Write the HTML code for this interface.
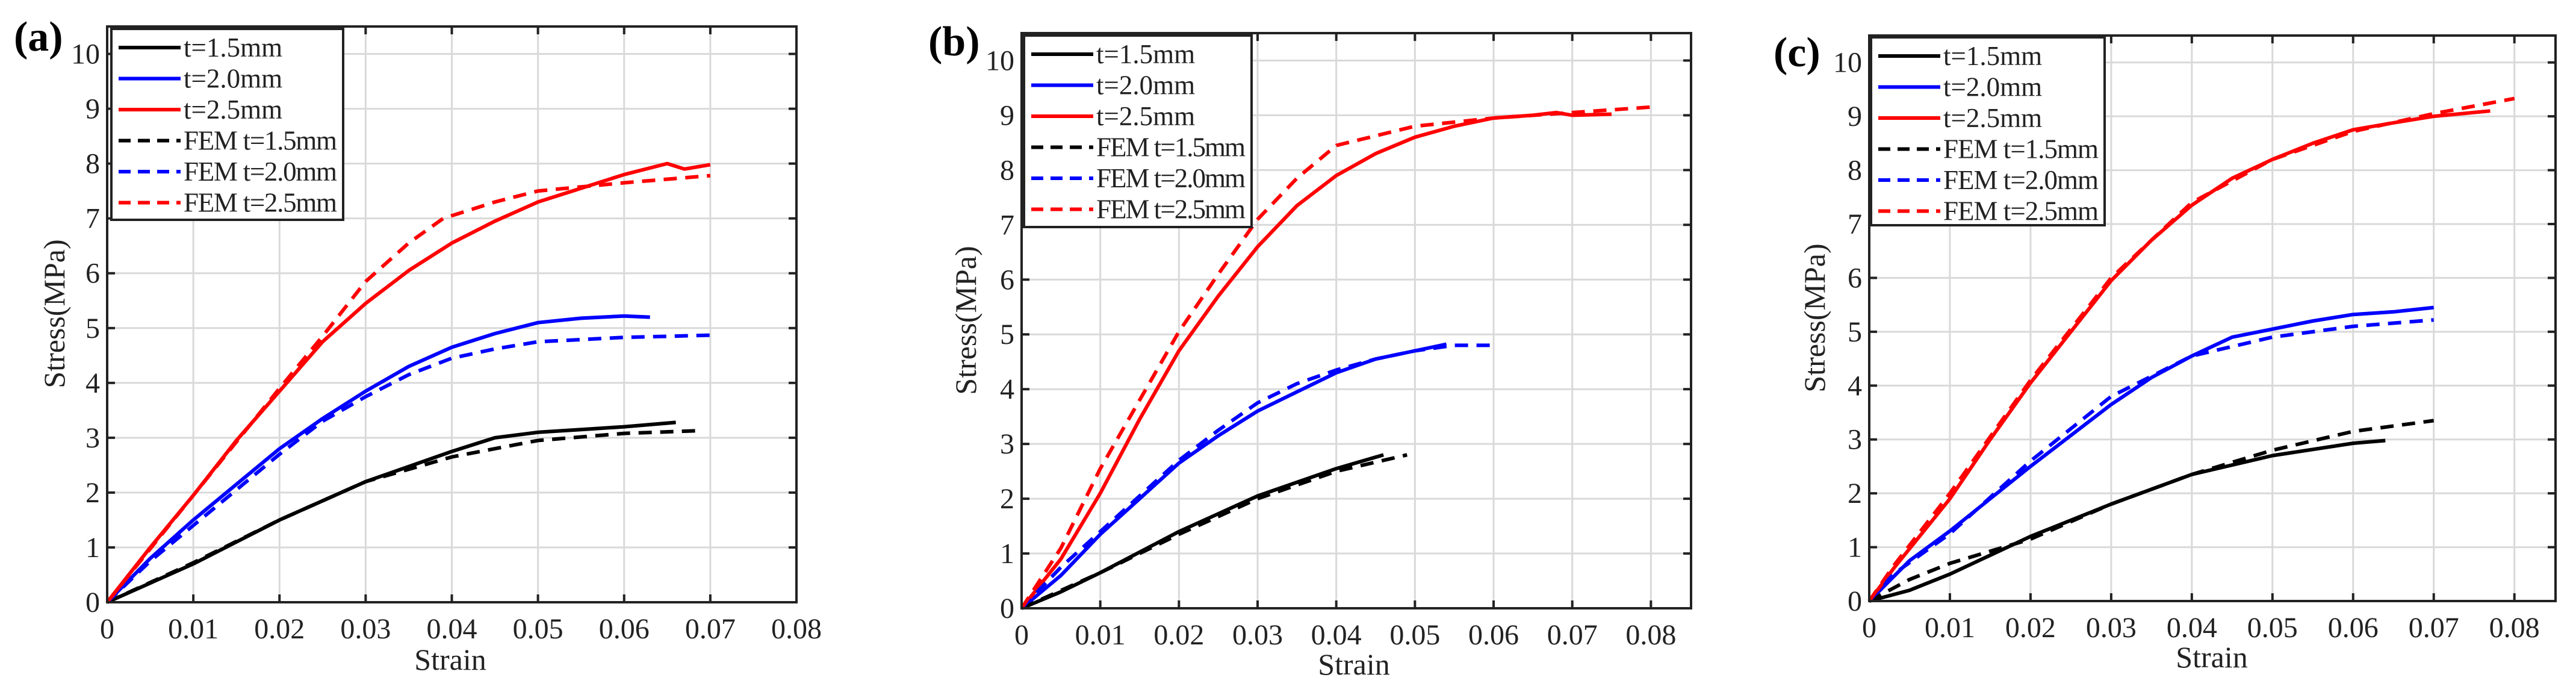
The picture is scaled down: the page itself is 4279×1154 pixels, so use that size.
<!DOCTYPE html>
<html><head><meta charset="utf-8"><style>
html,body{margin:0;padding:0;background:#fff;}
svg{display:block;font-family:"Liberation Serif",serif;}
</style></head><body>
<svg id="fig" width="4279" height="1154" viewBox="0 0 4279 1154" xmlns="http://www.w3.org/2000/svg"></svg>
<script>
// ---------- data (strain, stress MPa) ----------
const xTicks=[0,0.01,0.02,0.03,0.04,0.05,0.06,0.07,0.08];
const xTickLabels=["0","0.01","0.02","0.03","0.04","0.05","0.06","0.07","0.08"];
const yTicks=[0,1,2,3,4,5,6,7,8,9,10];
const yTickLabels=["0","1","2","3","4","5","6","7","8","9","10"];
const seriesNames=["t=1.5mm","t=2.0mm","t=2.5mm","FEM t=1.5mm","FEM t=2.0mm","FEM t=2.5mm"];

// panel (a)
const a_t15_x=[0,0.005,0.01,0.02,0.03,0.04,0.045,0.05,0.055,0.06,0.066];
const a_t15_y=[0,0.35,0.7,1.5,2.2,2.75,3.0,3.1,3.15,3.2,3.28];
const a_t20_x=[0,0.005,0.01,0.015,0.02,0.025,0.03,0.035,0.04,0.045,0.05,0.055,0.06,0.063];
const a_t20_y=[0,0.8,1.5,2.15,2.8,3.35,3.85,4.3,4.65,4.9,5.1,5.18,5.22,5.2];
const a_t25_x=[0,0.005,0.01,0.015,0.02,0.025,0.03,0.035,0.04,0.045,0.05,0.055,0.06,0.065,0.067,0.07];
const a_t25_y=[0,1.0,1.95,2.95,3.85,4.75,5.45,6.05,6.55,6.95,7.3,7.55,7.8,8.0,7.9,7.98];
const a_f15_x=[0,0.01,0.02,0.03,0.04,0.05,0.06,0.069];
const a_f15_y=[0,0.72,1.5,2.2,2.65,2.95,3.08,3.13];
const a_f20_x=[0,0.005,0.01,0.015,0.02,0.025,0.03,0.035,0.04,0.045,0.05,0.06,0.07];
const a_f20_y=[0,0.75,1.4,2.05,2.7,3.3,3.75,4.15,4.45,4.62,4.75,4.83,4.87];
const a_f25_x=[0,0.01,0.02,0.025,0.03,0.035,0.039,0.045,0.05,0.06,0.07];
const a_f25_y=[0,1.95,3.9,4.85,5.85,6.55,7.0,7.3,7.5,7.65,7.78];

// panel (b)
const b_t15_x=[0,0.005,0.01,0.02,0.03,0.04,0.046];
const b_t15_y=[0,0.3,0.65,1.4,2.05,2.55,2.8];
const b_t20_x=[0,0.005,0.01,0.015,0.02,0.025,0.03,0.035,0.04,0.045,0.05,0.054];
const b_t20_y=[0,0.6,1.35,2.0,2.65,3.15,3.6,3.95,4.3,4.55,4.7,4.82];
const b_t25_x=[0,0.005,0.01,0.015,0.02,0.025,0.03,0.035,0.04,0.045,0.05,0.055,0.06,0.065,0.068,0.07,0.075];
const b_t25_y=[0,0.9,2.1,3.45,4.7,5.7,6.6,7.35,7.9,8.3,8.6,8.8,8.95,9.0,9.05,9.0,9.02];
const b_f15_x=[0,0.01,0.02,0.03,0.04,0.049];
const b_f15_y=[0,0.65,1.35,2.0,2.5,2.8];
const b_f20_x=[0,0.005,0.01,0.015,0.02,0.025,0.03,0.035,0.04,0.045,0.05,0.055,0.06];
const b_f20_y=[0,0.75,1.4,2.05,2.7,3.25,3.75,4.1,4.35,4.55,4.7,4.8,4.8];
const b_f25_x=[0,0.005,0.01,0.015,0.02,0.025,0.03,0.035,0.04,0.05,0.06,0.07,0.08];
const b_f25_y=[0,1.1,2.55,3.8,5.05,6.1,7.1,7.85,8.45,8.8,8.95,9.05,9.15];

// panel (c)
const c_t15_x=[0,0.005,0.01,0.015,0.02,0.03,0.04,0.05,0.06,0.064];
const c_t15_y=[0,0.2,0.5,0.85,1.2,1.8,2.35,2.7,2.93,2.98];
const c_t20_x=[0,0.005,0.01,0.02,0.03,0.035,0.04,0.045,0.05,0.055,0.06,0.065,0.07];
const c_t20_y=[0,0.75,1.3,2.5,3.65,4.15,4.55,4.9,5.05,5.2,5.32,5.37,5.45];
const c_t25_x=[0,0.003,0.01,0.015,0.02,0.025,0.03,0.035,0.04,0.045,0.05,0.055,0.06,0.065,0.07,0.077];
const c_t25_y=[0,0.6,1.9,3.0,4.05,5.0,5.95,6.7,7.35,7.85,8.2,8.5,8.75,8.88,9.0,9.1];
const c_f15_x=[0,0.005,0.01,0.02,0.03,0.04,0.05,0.06,0.07];
const c_f15_y=[0,0.4,0.7,1.15,1.8,2.35,2.8,3.15,3.35];
const c_f20_x=[0,0.003,0.01,0.02,0.03,0.04,0.05,0.06,0.07];
const c_f20_y=[0,0.5,1.25,2.6,3.8,4.55,4.9,5.1,5.22];
const c_f25_x=[0,0.003,0.01,0.02,0.03,0.04,0.05,0.06,0.07,0.08];
const c_f25_y=[0,0.65,2.0,4.1,6.0,7.4,8.2,8.72,9.05,9.33];

const NS="http://www.w3.org/2000/svg";
const svg=document.getElementById('fig');
function mk(tag,attrs,parent){const e=document.createElementNS(NS,tag);for(const k in attrs)e.setAttribute(k,attrs[k]);(parent||svg).appendChild(e);return e;}

const colors=["#000","#0000ff","#ff0000","#000","#0000ff","#ff0000"];
const dashed=[false,false,false,true,true,true];

const panels=[
 {id:"a",L:178,R:1323,xfull:0.08,B:1000,T:44,lab:[23,84],ylab:[90,521],xlab:[748,1112],leg:[185,48,385,317],
  data:[[a_t15_x,a_t15_y],[a_t20_x,a_t20_y],[a_t25_x,a_t25_y],[a_f15_x,a_f15_y],[a_f20_x,a_f20_y],[a_f25_x,a_f25_y]]},
 {id:"b",L:1697,R:2809,xfull:0.0851,B:1010,T:55,lab:[1542,92],ylab:[1604,532],xlab:[2249,1120],leg:[1701,59,378,318],
  data:[[b_t15_x,b_t15_y],[b_t20_x,b_t20_y],[b_t25_x,b_t25_y],[b_f15_x,b_f15_y],[b_f20_x,b_f20_y],[b_f25_x,b_f25_y]]},
 {id:"c",L:3105,R:4245,xfull:0.0851,B:998,T:59,lab:[2946,110],ylab:[3014,528],xlab:[3674,1108],leg:[3108,62,388,312],
  data:[[c_t15_x,c_t15_y],[c_t20_x,c_t20_y],[c_t25_x,c_t25_y],[c_f15_x,c_f15_y],[c_f20_x,c_f20_y],[c_f25_x,c_f25_y]]}
];

panels.forEach(p=>{
  const g=mk('g',{});
  
  
  const xs=v=>p.L+(v/p.xfull)*(p.R-p.L);
  const ys=v=>p.B-(v/10.5)*(p.B-p.T);
  xTicks.forEach((t,i)=>{
    const x=xs(t);
    const gl=mk('line',{x1:x,x2:x,y1:p.T,y2:p.B,stroke:'#d9d9d9','stroke-width':3},g);
    
    
  });
  yTicks.forEach((t,i)=>{
    const y=ys(t);
    const gl=mk('line',{x1:p.L,x2:p.R,y1:y,y2:y,stroke:'#d9d9d9','stroke-width':3},g);
    
    
  });
  p.data.forEach((d,si)=>{
    const pts=d[0].map((x,i)=>xs(x).toFixed(1)+','+ys(d[1][i]).toFixed(1)).join(' ');
    const pl=mk('polyline',{points:pts,fill:'none',stroke:colors[si],'stroke-width':6,'stroke-linejoin':'round'},g);
    if(dashed[si])pl.setAttribute('stroke-dasharray','22 14');
    
    
  });
  xTicks.forEach((t,i)=>{
    const x=xs(t);
    mk('line',{x1:x,x2:x,y1:p.B,y2:p.B-13,stroke:'#222','stroke-width':4},g);
    mk('line',{x1:x,x2:x,y1:p.T,y2:p.T+13,stroke:'#222','stroke-width':4},g);
    const tl=mk('text',{x:x,y:p.B+60,'font-size':48,'text-anchor':'middle',fill:'#222'},g);
    tl.textContent=xTickLabels[i];
    
    
  });
  yTicks.forEach((t,i)=>{
    const y=ys(t);
    mk('line',{x1:p.L,x2:p.L+13,y1:y,y2:y,stroke:'#222','stroke-width':4},g);
    mk('line',{x1:p.R,x2:p.R-13,y1:y,y2:y,stroke:'#222','stroke-width':4},g);
    const tl=mk('text',{x:p.L-12,y:y+16,'font-size':48,'text-anchor':'end',fill:'#222'},g);
    tl.textContent=yTickLabels[i];
    
    
  });
  const box=mk('rect',{x:p.L,y:p.T,width:p.R-p.L,height:p.B-p.T,fill:'none',stroke:'#222','stroke-width':4},g);
  
  
  const pl=mk('text',{x:p.lab[0],y:p.lab[1],'font-size':70,'font-weight':'bold',fill:'#000'},g);
  pl.textContent='('+p.id+')';
  
  
  const yl=mk('text',{x:p.ylab[0],y:p.ylab[1],'font-size':50,'text-anchor':'middle',fill:'#222',transform:'rotate(-90 '+p.ylab[0]+' '+p.ylab[1]+')','dominant-baseline':'central'},g);
  yl.textContent='Stress(MPa)';
  
  
  const xl=mk('text',{x:p.xlab[0],y:p.xlab[1],'font-size':50,'text-anchor':'middle',fill:'#222'},g);
  xl.textContent='Strain';
  
  
  const lg=mk('g',{},g);
  
  
  mk('rect',{x:p.leg[0],y:p.leg[1],width:p.leg[2],height:p.leg[3],fill:'#fff',stroke:'#222','stroke-width':4},lg);
  seriesNames.forEach((n,si)=>{
    const ry=p.leg[1]+31+si*51.5;
    const ln=mk('line',{x1:p.leg[0]+12,x2:p.leg[0]+115,y1:ry,y2:ry,stroke:colors[si],'stroke-width':6},lg);
    if(dashed[si])ln.setAttribute('stroke-dasharray','20 12');
    const tx=mk('text',{x:p.leg[0]+120,y:ry+15,'font-size':45,fill:'#222',textLength:(n.length>8?p.leg[2]-130:null)},lg);
    if(n.length<=8)tx.removeAttribute('textLength');
    tx.textContent=n;
    
    
  });
});
</script>
</body></html>
